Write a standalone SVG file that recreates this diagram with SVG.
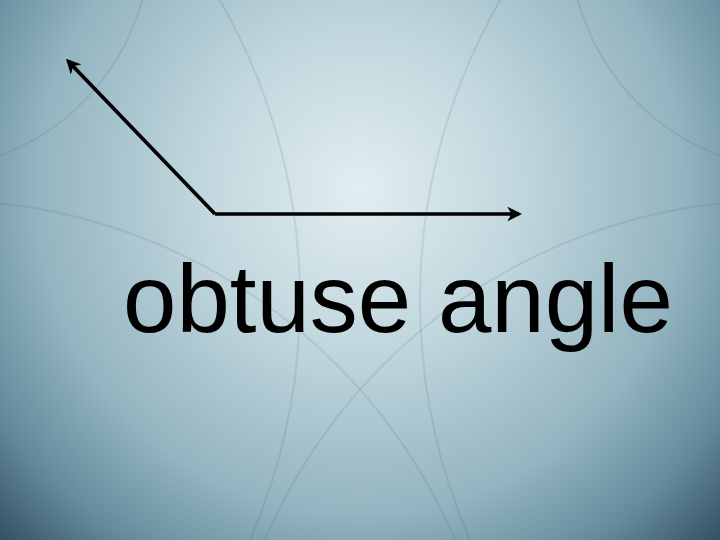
<svg xmlns="http://www.w3.org/2000/svg" width="720" height="540" viewBox="0 0 720 540">
  <defs>
    <radialGradient id="bg" cx="360" cy="190" r="540" gradientUnits="userSpaceOnUse">
      <stop offset="0" stop-color="#e2eef1"/>
      <stop offset="0.3" stop-color="#c0d6dd"/>
      <stop offset="0.6" stop-color="#93b4c0"/>
      <stop offset="0.78" stop-color="#658b9b"/>
      <stop offset="1" stop-color="#1c354a"/>
    </radialGradient>
    <marker id="arr" viewBox="0 0 10 10" refX="8" refY="5" markerWidth="4" markerHeight="4" orient="auto" markerUnits="strokeWidth">
      <path d="M0,0 L10,5 L0,10 L3,5 Z" fill="#000"/>
    </marker>
    <style>
      .ray { stroke:#000; stroke-width:3.7; fill:none; }
      .arc { fill:none; stroke:#3e6070; stroke-opacity:0.13; stroke-width:2; }
      .lbl { font-family:"Liberation Sans", Arial, sans-serif; font-size:96px; fill:#000; }
    </style>
  </defs>
  <rect width="720" height="540" fill="url(#bg)"/>
  <g id="background-arcs">
    <circle class="arc" cx="-80" cy="-60" r="230"/>
    <circle class="arc" cx="800" cy="-60" r="230"/>
    <circle class="arc" cx="-60" cy="760" r="560"/>
    <circle class="arc" cx="780" cy="760" r="560"/>
    <circle class="arc" cx="-300" cy="300" r="600"/>
    <circle class="arc" cx="1020" cy="300" r="600"/>
  </g>
  <g id="connectors">
    <line class="ray" x1="215" y1="214" x2="68" y2="61" marker-end="url(#arr)"/>
    <line class="ray" x1="215" y1="214" x2="519" y2="214" marker-end="url(#arr)"/>
  </g>
  <g id="label">
    <text class="lbl" x="123" y="332">obtuse angle</text>
  </g>
</svg>
